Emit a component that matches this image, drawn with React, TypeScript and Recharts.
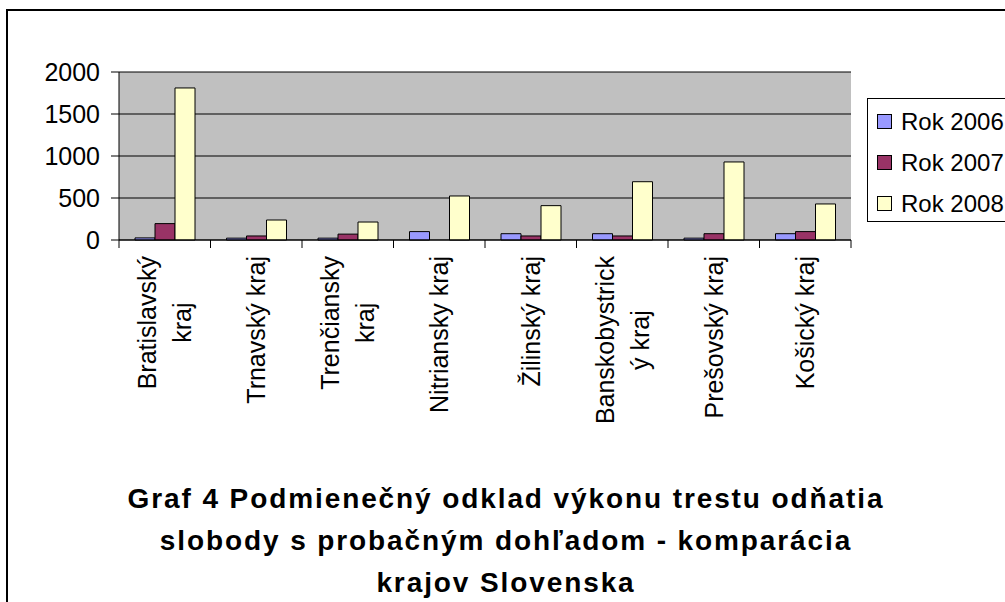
import React from "react";
import { BarChart, Bar, XAxis, YAxis, CartesianGrid, Legend } from "recharts";

// Values (approximate)
const REGIONS = [
  "Bratislavský kraj",
  "Trnavský kraj",
  "Trenčiansky kraj",
  "Nitriansky kraj",
  "Žilinský kraj",
  "Banskobystrický kraj",
  "Prešovský kraj",
  "Košický kraj",
];
const REGION_LINES = [
  ["Bratislavský", "kraj"],
  ["Trnavský kraj"],
  ["Trenčiansky", "kraj"],
  ["Nitriansky kraj"],
  ["Žilinský kraj"],
  ["Banskobystrick", "ý kraj"],
  ["Prešovský kraj"],
  ["Košický kraj"],
];
const ROK_2006 = [25, 22, 22, 100, 75, 75, 22, 75];
const ROK_2007 = [195, 48, 70, 0, 48, 48, 75, 100];
const ROK_2008 = [1810, 238, 214, 524, 409, 694, 929, 429];
const Y_TICKS = [0, 500, 1000, 1500, 2000];
const TITLE_LINES = [
  "Graf 4 Podmienečný odklad výkonu trestu odňatia",
  "slobody s probačným dohľadom - komparácia",
  "krajov Slovenska",
];

const data = REGIONS.map((region, i) => ({
  region,
  lines: REGION_LINES[i],
  y2006: ROK_2006[i],
  y2007: ROK_2007[i],
  y2008: ROK_2008[i],
}));

const FONT = "'Liberation Sans', Arial, sans-serif";
const LABEL_SIZE = 25;

let measureCtx: CanvasRenderingContext2D | null = null;
function textWidth(s: string) {
  if (!measureCtx) measureCtx = document.createElement("canvas").getContext("2d");
  if (!measureCtx) return s.length * LABEL_SIZE * 0.5;
  measureCtx.font = `${LABEL_SIZE}px ${FONT}`;
  return measureCtx.measureText(s).width;
}

function RegionTick(props: any) {
  const { x, y, payload, index } = props;
  const lines: string[] = REGION_LINES[index] || [payload.value];
  const half = payload.offset || 45.75;
  const maxW = Math.max(...lines.map(textWidth));
  const cy = y + 16 + maxW / 2;
  const n = lines.length;
  return (
    <g>
      <line x1={x - half} x2={x - half} y1={y} y2={y + 8} stroke="#000" />
      {index === REGIONS.length - 1 && (
        <line x1={x + half} x2={x + half} y1={y} y2={y + 8} stroke="#000" />
      )}
      <text
        transform={`translate(${x},${cy}) rotate(-90)`}
        textAnchor="middle"
        fontSize={LABEL_SIZE}
        fontFamily={FONT}
        fill="#000"
      >
        {lines.map((l, i) => (
          <tspan key={i} x={0} y={(i - (n - 1) / 2) * 35} dy="0.35em">
            {l}
          </tspan>
        ))}
      </text>
    </g>
  );
}

function LegendBox({ payload }: any) {
  return (
    <div
      style={{
        border: "1px solid #000",
        background: "#fff",
        width: 160,
        height: 124,
        boxSizing: "border-box",
        paddingTop: 2,
      }}
    >
      {(payload || []).map((p: any) => (
        <div
          key={p.value}
          style={{
            height: 41,
            display: "flex",
            alignItems: "center",
            fontFamily: FONT,
            fontSize: 24,
            whiteSpace: "nowrap",
            color: "#000",
          }}
        >
          <span
            style={{
              display: "inline-block",
              flex: "none",
              width: 13,
              height: 13,
              border: "1px solid #000",
              background: p.color,
              marginLeft: 9,
              marginRight: 9,
            }}
          />
          {p.value}
        </div>
      ))}
    </div>
  );
}

export default function App() {
  return (
    <div style={{ position: "absolute", left: 0, top: 0, width: 1005, height: 602, overflow: "hidden", background: "#fff" }}>
      <div
        style={{
          position: "absolute",
          left: 6,
          top: 9,
          width: 1100,
          height: 700,
          border: "2px solid #000",
        }}
      />
      <BarChart
        width={1005}
        height={602}
        data={data}
        margin={{ top: 72, right: 154, left: 0, bottom: 0 }}
        barGap={0}
        barSize={20}
      >
        <CartesianGrid vertical={false} stroke="#000" fill="#C0C0C0" fillOpacity={1} />
        <XAxis
          dataKey="region"
          height={362}
          interval={0}
          tickLine={false}
          tickSize={0}
          tickMargin={0}
          axisLine={{ stroke: "#000" }}
          tick={<RegionTick />}
        />
        <XAxis
          xAxisId="top"
          orientation="top"
          dataKey="region"
          height={0}
          tick={false}
          tickLine={false}
          axisLine={{ stroke: "#808080", strokeWidth: 2 }}
        />
        <YAxis
          width={119}
          domain={[0, 2000]}
          ticks={Y_TICKS}
          interval={0}
          tickSize={8}
          tickMargin={11}
          axisLine={{ stroke: "#000" }}
          tickLine={{ stroke: "#000" }}
          tick={{ fill: "#000", fontSize: 25, fontFamily: FONT }}
        />
        <YAxis
          yAxisId="right"
          orientation="right"
          width={0}
          domain={[0, 2000]}
          tick={false}
          tickLine={false}
          axisLine={{ stroke: "#808080", strokeWidth: 2 }}
        />
        <Legend
          layout="vertical"
          align="center"
          verticalAlign="middle"
          wrapperStyle={{ left: 867, top: 98, width: 160 }}
          content={<LegendBox />}
        />
        <Bar dataKey="y2006" name="Rok 2006" fill="#9999FF" stroke="#000" strokeWidth={1} isAnimationActive={false} />
        <Bar dataKey="y2007" name="Rok 2007" fill="#993366" stroke="#000" strokeWidth={1} isAnimationActive={false} />
        <Bar dataKey="y2008" name="Rok 2008" fill="#FFFFCC" stroke="#000" strokeWidth={1} isAnimationActive={false} />
      </BarChart>
      <div
        style={{
          position: "absolute",
          left: 0,
          width: 1012,
          top: 478,
          textAlign: "center",
          fontFamily: FONT,
          fontWeight: "bold",
          fontSize: 28,
          letterSpacing: 1.9,
          lineHeight: "42px",
          color: "#000",
        }}
      >
        {TITLE_LINES.map((t) => (
          <div key={t}>{t}</div>
        ))}
      </div>
    </div>
  );
}
